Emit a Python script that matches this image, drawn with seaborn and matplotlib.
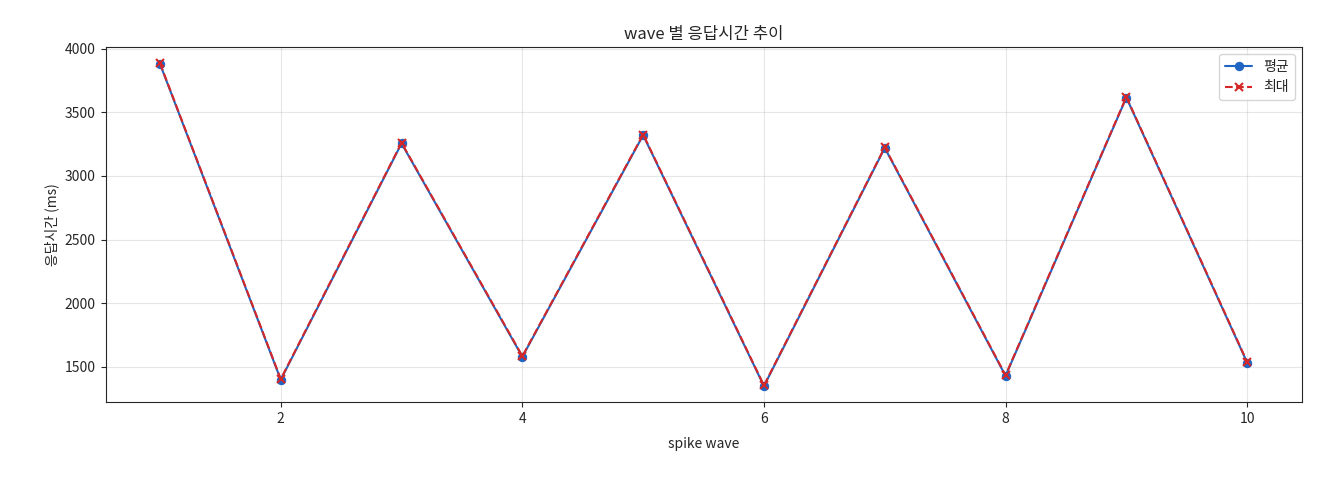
import matplotlib
matplotlib.use("Agg")
import matplotlib.pyplot as plt
import seaborn as sns
import pandas as pd

waves = [1, 2, 3, 4, 5, 6, 7, 8, 9, 10]
avg_ms = [3880, 1400, 3255, 1580, 3320, 1350, 3220, 1430, 3615, 1535]
max_ms = [3885, 1405, 3260, 1585, 3325, 1355, 3225, 1435, 3620, 1540]

sns.set_style("ticks")
plt.rcParams['font.family'] = ['Noto Sans CJK KR', 'DejaVu Sans']
plt.rcParams['axes.unicode_minus'] = False

df = pd.DataFrame({"wave": waves, "avg": avg_ms, "max": max_ms})
fig, ax = plt.subplots(figsize=(13.2, 4.8), dpi=100)
sns.lineplot(data=df, x="wave", y="avg", marker="o", color="#1f65c2", markersize=6,
             markeredgecolor="#1f65c2", label="평균", ax=ax)
sns.lineplot(data=df, x="wave", y="max", marker="x", color="#d62728",
             markersize=6, markeredgecolor="#d62728", markeredgewidth=1.5, label="최대", ax=ax)
ax.lines[1].set_linestyle("--")
ax.grid(True, color="#b0b0b0", alpha=0.3)
ax.set_title("wave 별 응답시간 추이")
ax.set_xlabel("spike wave", labelpad=8)
ax.set_ylabel("응답시간 (ms)")
ax.legend(loc="upper right")
fig.subplots_adjust(left=0.08, right=0.986, top=0.902, bottom=0.162)
fig.savefig("out.png", dpi=100)
